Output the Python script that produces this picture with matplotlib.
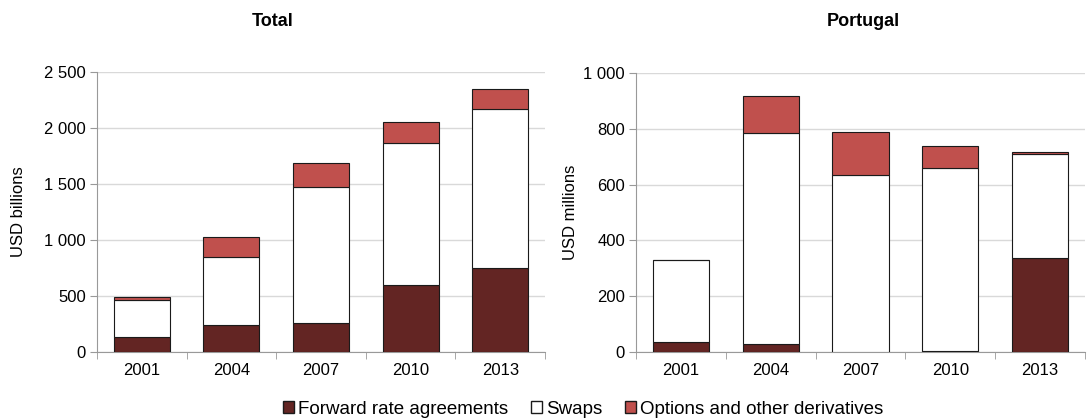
import matplotlib
matplotlib.use("Agg")
import matplotlib.pyplot as plt
from matplotlib.ticker import FuncFormatter, MultipleLocator
from matplotlib.patches import Patch
import numpy as np

plt.rcParams['font.family'] = ['Liberation Sans', 'DejaVu Sans']

anos = ["2001", "2004", "2007", "2010", "2013"]

# Total (USD billions)
total_fra = [133, 237, 255, 596, 747]
total_swaps = [331, 610, 1218, 1271, 1422]
total_opcoes = [30, 181, 216, 186, 178]

# Portugal (USD millions)
pt_fra = [37, 30, 1, 5, 338]
pt_swaps = [291, 755, 635, 654, 370]
pt_opcoes = [2, 132, 152, 80, 10]

COR_FRA = "#632523"
COR_SWAPS = "#FFFFFF"
COR_OPC = "#C0504D"


def milhar(v, pos):
    return f"{int(v):,}".replace(",", " ")


def painel(ax, fra, swaps, opcoes, ylabel, ymax, passo, pad_y):
    x = np.arange(len(anos))
    fra = np.array(fra)
    swaps = np.array(swaps)
    opcoes = np.array(opcoes)
    w = 0.625
    ax.bar(x, fra, w, color=COR_FRA, edgecolor="#1a1a1a", linewidth=0.8, zorder=3)
    ax.bar(x, swaps, w, bottom=fra, color=COR_SWAPS, edgecolor="#1a1a1a", linewidth=0.8, zorder=3)
    ax.bar(x, opcoes, w, bottom=fra + swaps, color=COR_OPC, edgecolor="#1a1a1a", linewidth=0.8, zorder=3)

    ax.set_xlim(-0.5, len(anos) - 0.5)
    ax.set_ylim(0, ymax)
    ax.yaxis.set_major_locator(MultipleLocator(passo))
    ax.yaxis.set_major_formatter(FuncFormatter(milhar))
    ax.set_xticks(x)
    ax.set_xticklabels(anos)
    ax.set_xticks(np.arange(-0.5, len(anos)), minor=True)
    ax.tick_params(axis="x", which="major", length=0, pad=8, labelsize=12)
    ax.tick_params(axis="x", which="minor", length=5, color="#999999")
    ax.tick_params(axis="y", length=5, color="#999999", labelsize=12, pad=3)
    ax.grid(axis="y", color="#d9d9d9", linewidth=1, zorder=0)
    for s in ["top", "right"]:
        ax.spines[s].set_visible(False)
    ax.spines["left"].set_color("#999999")
    ax.spines["bottom"].set_color("#999999")
    ax.set_ylabel(ylabel, fontsize=12, labelpad=pad_y)


fig = plt.figure(figsize=(10.89, 4.2), dpi=100)
ax1 = fig.add_axes([97 / 1089, 1 - 352 / 420, 448 / 1089, 280 / 420])
ax2 = fig.add_axes([636 / 1089, 1 - 352 / 420, 449 / 1089, 279 / 420])

painel(ax1, total_fra, total_swaps, total_opcoes, "USD billions", 2500, 500, 13)
painel(ax2, pt_fra, pt_swaps, pt_opcoes, "USD millions", 1000, 200, 4)

# Títulos dos painéis
fig.text(273 / 1089, 1 - 22 / 420, "Total", ha="center", va="center",
         fontsize=13, fontweight="bold")
fig.text(863 / 1089, 1 - 22 / 420, "Portugal", ha="center", va="center",
         fontsize=13, fontweight="bold")

legenda = [
    Patch(facecolor=COR_FRA, edgecolor="#1a1a1a", label="Forward rate agreements"),
    Patch(facecolor=COR_SWAPS, edgecolor="#1a1a1a", label="Swaps"),
    Patch(facecolor=COR_OPC, edgecolor="#1a1a1a", label="Options and other derivatives"),
]
fig.legend(handles=legenda, loc="center", bbox_to_anchor=(583 / 1089, 1 - 409 / 420),
           ncol=3, frameon=False, fontsize=13.5, handlelength=0.6, handleheight=0.6,
           handletextpad=0.2, columnspacing=1.2)

fig.savefig("out.png", dpi=100)
